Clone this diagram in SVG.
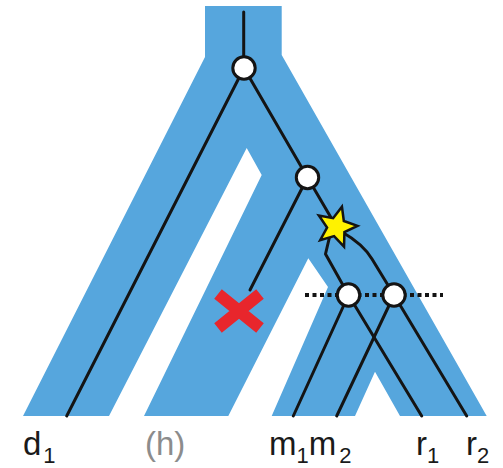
<svg xmlns="http://www.w3.org/2000/svg" width="503" height="468" viewBox="0 0 503 468">
<style>
.gene{fill:none;stroke:#141414;stroke-width:3;stroke-linejoin:round;stroke-linecap:round}
.node{fill:#ffffff;stroke:#141414;stroke-width:3}
.lbl{font-family:"Liberation Sans",Arial,sans-serif;font-size:33px;fill:#1a1a1a}
.sub{font-size:22px}
</style>
<rect width="503" height="468" fill="#ffffff"/>
<g id="species-tree">
<path fill="#56a6dd" d="M205,6 L281.7,6 L281.7,55 L486.7,416 L400,416 L375,371.7 L355,416 L271.7,416 L328,287 L308.3,258.3 L228.3,416 L144,416 L261.7,175 L246.7,148 L109,416 L23,416 L205,57 Z"/>
</g>
<g id="connectors">
<line class="gene" x1="243.7" y1="12" x2="243.7" y2="68"/>
<line class="gene" x1="244" y1="68" x2="66.7" y2="416"/>
<line class="gene" x1="244" y1="68" x2="307.5" y2="177.5"/>
<line class="gene" x1="307.5" y1="177.5" x2="250" y2="290"/>
<line class="gene" x1="307.5" y1="177.5" x2="336.5" y2="227"/>
<path class="gene" d="M330,235 L325.5,254 L348.5,295"/>
<path class="gene" d="M342,232 C356,240 366,249 372,259 L394,295"/>
<line class="gene" x1="348.5" y1="295" x2="293.3" y2="416"/>
<line class="gene" x1="348.5" y1="295" x2="421.7" y2="416"/>
<line class="gene" x1="394" y1="295" x2="336.7" y2="416"/>
<line class="gene" x1="394" y1="295" x2="466.7" y2="416"/>
<line x1="305" y1="295" x2="443" y2="295" stroke="#141414" stroke-width="4" stroke-dasharray="4 3.5"/>
</g>
<g id="node-root"><circle class="node" cx="244" cy="68" r="11.2"/></g>
<g id="node-2"><circle class="node" cx="307.5" cy="177.5" r="11.2"/></g>
<g id="node-3"><circle class="node" cx="348.5" cy="295" r="11.2"/></g>
<g id="node-4"><circle class="node" cx="394" cy="295" r="11.2"/></g>
<g id="star">
<path transform="translate(336.5,227) rotate(15) scale(1.05)" fill="#fff200" stroke="#141414" stroke-width="2.4" stroke-linejoin="miter" d="M0,-20 L5.29,-7.28 L19.02,-6.18 L8.56,2.78 L11.76,16.18 L0,9 L-11.76,16.18 L-8.56,2.78 L-19.02,-6.18 L-5.29,-7.28 Z"/>
</g>
<g id="loss">
<path d="M218,294 L260,328 M260,294 L218,328" stroke="#e8262c" stroke-width="12" stroke-linecap="butt" fill="none"/>
</g>
<g id="labels">
<text class="lbl" x="23" y="455">d<tspan class="sub" dy="8" dx="2">1</tspan></text>
<text class="lbl" x="145" y="455" style="fill:#8c8c8c">(h)</text>
<text class="lbl" x="269" y="455">m<tspan class="sub" dy="8">1</tspan><tspan dy="-8">m</tspan><tspan class="sub" dy="8" dx="3">2</tspan></text>
<text class="lbl" x="416" y="455">r<tspan class="sub" dy="8">1</tspan></text>
<text class="lbl" x="466" y="455">r<tspan class="sub" dy="8">2</tspan></text>
</g>
</svg>
